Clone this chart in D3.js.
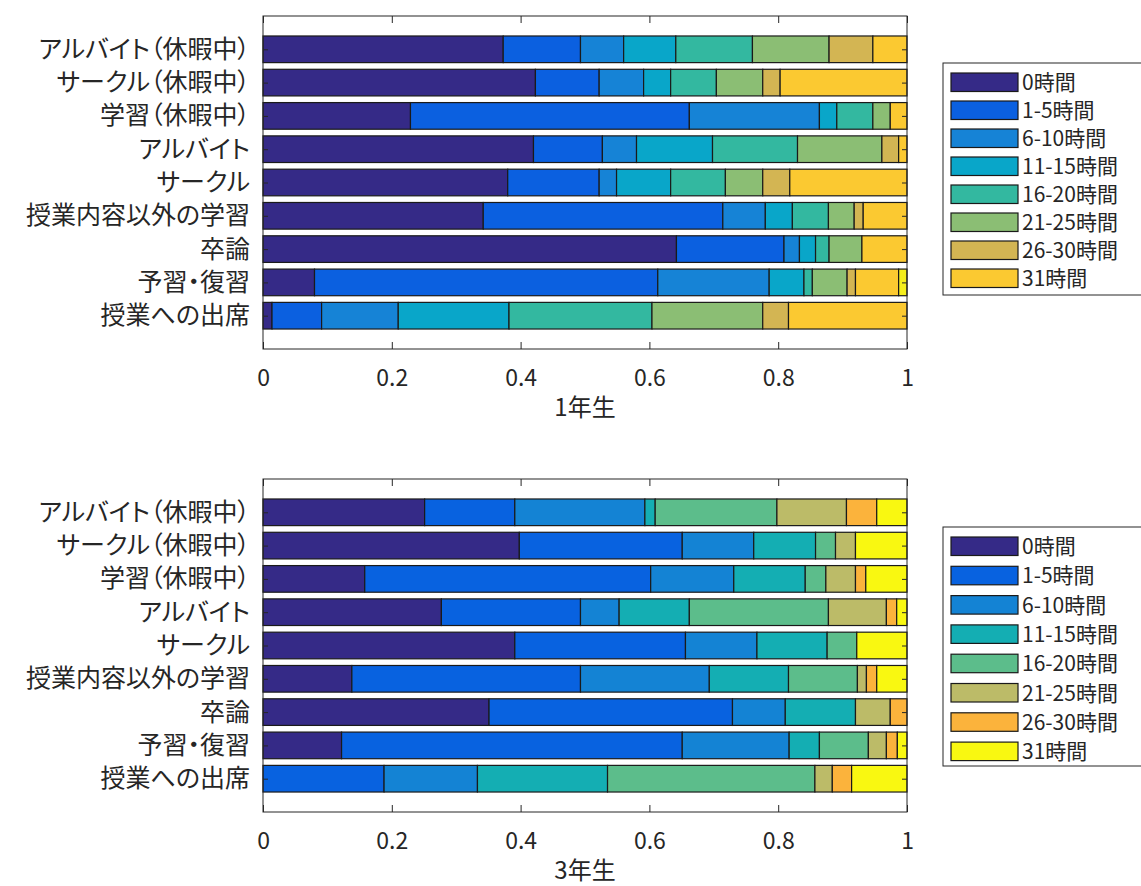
<!DOCTYPE html>
<html><head><meta charset="utf-8">
<script src="https://cdn.jsdelivr.net/npm/d3@7/dist/d3.min.js"></script>
<style>
body{margin:0;background:#fff}
text{font-family:"Noto Sans CJK JP","Noto Sans",sans-serif;fill:#262626}
</style>
</head><body>
<svg id="chart" width="1141" height="886"></svg>
<script>
// ---------- data ----------
const categories = ["アルバイト（休暇中）","サークル（休暇中）","学習（休暇中）","アルバイト","サークル","授業内容以外の学習","卒論","予習・復習","授業への出席"];
const bins = ["0時間","1-5時間","6-10時間","11-15時間","16-20時間","21-25時間","26-30時間","31時間"];
const xTicks = [0,0.2,0.4,0.6,0.8,1];
const xTickLabels = ["0","0.2","0.4","0.6","0.8","1"];

// 1年生 (shares per category, top to bottom)
const y1_h0    = [0.373,0.423,0.229,0.420,0.380,0.342,0.642,0.080,0.014];
const y1_h1_5  = [0.120,0.099,0.433,0.107,0.142,0.372,0.167,0.533,0.077];
const y1_h6_10 = [0.067,0.069,0.202,0.053,0.027,0.066,0.024,0.173,0.119];
const y1_h11_15= [0.081,0.042,0.027,0.118,0.084,0.042,0.025,0.054,0.172];
const y1_h16_20= [0.119,0.071,0.056,0.132,0.085,0.056,0.021,0.013,0.222];
const y1_h21_25= [0.119,0.072,0.027,0.131,0.058,0.040,0.051,0.054,0.172];
const y1_h26_30= [0.068,0.027,0.000,0.026,0.042,0.014,0.000,0.013,0.040];
const y1_h31   = [0.053,0.197,0.026,0.013,0.182,0.068,0.070,0.067,0.184];
const y1_extra = [0,0,0,0,0,0,0,0.013,0];

// 3年生
const y3_h0    = [0.251,0.398,0.158,0.277,0.391,0.138,0.351,0.122,0.000];
const y3_h1_5  = [0.140,0.253,0.444,0.216,0.265,0.355,0.378,0.529,0.188];
const y3_h6_10 = [0.202,0.111,0.129,0.060,0.111,0.200,0.082,0.166,0.145];
const y3_h11_15= [0.016,0.096,0.111,0.109,0.109,0.123,0.109,0.047,0.202];
const y3_h16_20= [0.189,0.031,0.032,0.216,0.046,0.107,0.000,0.076,0.322];
const y3_h21_25= [0.108,0.031,0.046,0.090,0.000,0.014,0.054,0.028,0.027];
const y3_h26_30= [0.047,0.000,0.016,0.016,0.000,0.016,0.026,0.017,0.030];
const y3_h31   = [0.047,0.080,0.064,0.016,0.078,0.047,0.000,0.015,0.086];

const colors1 = ["#352a87","#0b60e0","#1683d6","#09a6c9","#33b8a0","#8bbe74","#d3b553","#fbc931","#f5ee1c"];
const colors3 = ["#352a87","#0862e0","#1483d4","#14aeb3","#5cbd8b","#bcbb68","#fbb33c","#f9f811"];

// ---------- drawing ----------
const svg = d3.select("#chart");
const X0 = 263, X1 = 907, AH = 333;
const x = d3.scaleLinear().domain([0,1]).range([X0,X1]);

function panel(top, seriesArrays, colors, title, legTop, legStep, legBottom){
  const y = d3.scaleLinear().domain([0,10]).range([top, top+AH]);
  const keys = seriesArrays.map((_,i)=>"s"+i);
  const rows = categories.map((c,ci)=>{
    const r = {cat:c, pos:ci+1};
    seriesArrays.forEach((a,si)=>{ r["s"+si] = a[ci]; });
    return r;
  });
  const stacked = d3.stack().keys(keys)(rows);
  const g = svg.append("g");
  g.append("rect").attr("x",X0).attr("y",top).attr("width",X1-X0).attr("height",AH).attr("fill","#fff");
  stacked.forEach((layer,si)=>{
    g.append("g").selectAll("rect").data(layer.filter(d=>d[1]-d[0]>0)).join("rect")
      .attr("x",d=>x(d[0]))
      .attr("width",d=>x(d[1])-x(d[0]))
      .attr("y",d=>y(d.data.pos-0.4))
      .attr("height",d=>y(d.data.pos+0.4)-y(d.data.pos-0.4))
      .attr("fill",colors[si]).attr("stroke","#1a1a1a").attr("stroke-width",1.2);
  });
  const bottom = top+AH;
  // axes
  const ax = d3.axisBottom(x).tickValues(xTicks).tickSize(-7).tickPadding(21)
    .tickFormat((d,i)=>xTickLabels[i]);
  const gb = g.append("g").attr("transform",`translate(0,${bottom})`).call(ax);
  gb.select(".domain").remove();
  gb.selectAll("line").attr("stroke","#262626");
  gb.selectAll("text").attr("font-size",23).attr("font-family",'"Liberation Sans Narrow","Noto Sans CJK JP",sans-serif').attr("fill","#262626");
  const gt = g.append("g").attr("transform",`translate(0,${top})`).call(d3.axisTop(x).tickValues(xTicks).tickSize(-7).tickFormat(""));
  gt.select(".domain").remove(); gt.selectAll("line").attr("stroke","#262626");
  const yl = d3.scaleLinear().domain([0,10]).range([top,bottom]);
  const gl = g.append("g").attr("transform",`translate(${X0},0)`)
    .call(d3.axisLeft(yl).tickValues(d3.range(1,10)).tickSize(-5).tickPadding(13).tickFormat(d=>categories[d-1]));
  gl.select(".domain").remove(); gl.selectAll("line").attr("stroke","#262626");
  gl.selectAll("text").attr("font-size",25).style("font-feature-settings",'"palt"').attr("fill","#262626");
  const gr = g.append("g").attr("transform",`translate(${X1},0)`)
    .call(d3.axisRight(yl).tickValues(d3.range(1,10)).tickSize(-5).tickFormat(""));
  gr.select(".domain").remove(); gr.selectAll("line").attr("stroke","#262626");
  g.append("rect").attr("x",X0).attr("y",top).attr("width",X1-X0).attr("height",AH)
    .attr("fill","none").attr("stroke","#262626").attr("stroke-width",1);
  g.append("text").attr("x",(X0+X1)/2).attr("y",bottom+67).attr("text-anchor","middle")
    .attr("font-size",24).text(title);
  // legend
  const lg = svg.append("g");
  lg.append("rect").attr("x",943).attr("y",legTop).attr("width",210).attr("height",legBottom-legTop)
    .attr("fill","#fff").attr("stroke","#262626").attr("stroke-width",1);
  bins.forEach((b,i)=>{
    const yy = legTop+10+i*legStep;
    lg.append("rect").attr("x",951).attr("y",yy).attr("width",67).attr("height",18.5)
      .attr("fill",colors[i]).attr("stroke","#1a1a1a").attr("stroke-width",1.2);
    lg.append("text").attr("x",1022).attr("y",yy+9.5).attr("dy","0.36em")
      .attr("font-size",21).text(b);
  });
}

panel(16,[y1_h0,y1_h1_5,y1_h6_10,y1_h11_15,y1_h16_20,y1_h21_25,y1_h26_30,y1_h31,y1_extra],colors1,"1年生",63,28,295);
panel(479,[y3_h0,y3_h1_5,y3_h6_10,y3_h11_15,y3_h16_20,y3_h21_25,y3_h26_30,y3_h31],colors3,"3年生",527,29.3,766);
</script>
</body></html>
